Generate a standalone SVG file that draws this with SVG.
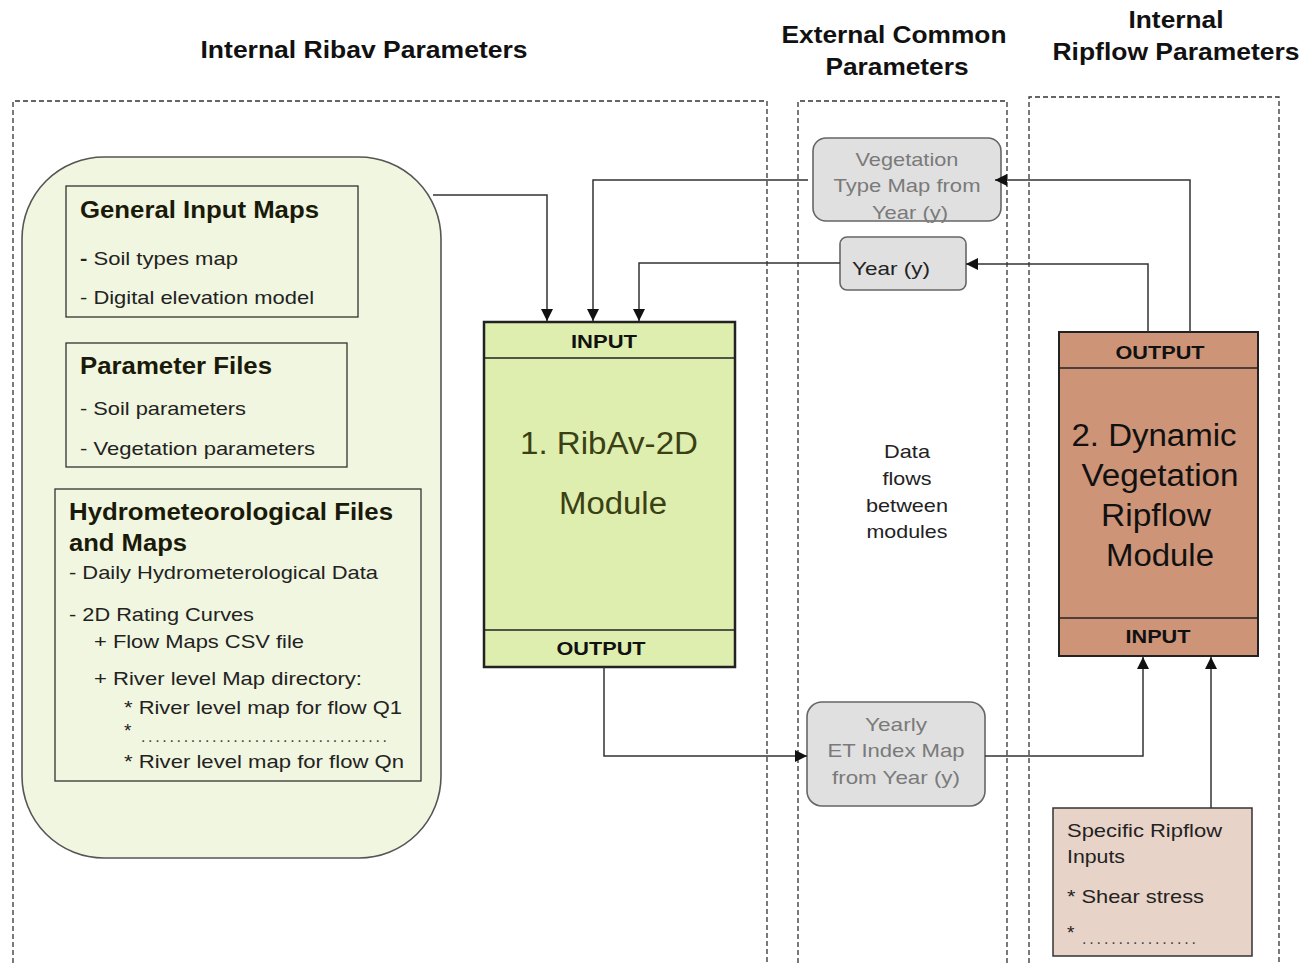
<svg xmlns="http://www.w3.org/2000/svg" width="1303" height="963" viewBox="0 0 1303 963">
<defs>
<marker id="arr" markerUnits="userSpaceOnUse" markerWidth="12" markerHeight="12" viewBox="0 0 12 12" refX="12" refY="6" orient="auto">
<path d="M0,0 L12,6 L0,12 Z" fill="#111"/>
</marker>
<style>
.panel{fill:none;stroke:#333;stroke-width:1.3;stroke-dasharray:5,3}
.title{font-family:"Liberation Sans",Arial,sans-serif;font-weight:bold;font-size:24px;fill:#111}
.hd{font-family:"Liberation Sans",Arial,sans-serif;font-weight:bold;font-size:23px;fill:#1a1a0a}
.bd{font-family:"Liberation Sans",Arial,sans-serif;font-size:19px;fill:#222}
.dots{font-family:"Liberation Sans",Arial,sans-serif;font-size:16px;fill:#444}
.cap{font-family:"Liberation Sans",Arial,sans-serif;font-weight:bold;font-size:19px;fill:#111}
.mod{font-family:"Liberation Sans",Arial,sans-serif;font-size:31px}
.gray{font-family:"Liberation Sans",Arial,sans-serif;font-size:19px;fill:#7a7a7a}
.conn{fill:none;stroke:#333;stroke-width:1.5}
.sub{fill:#f1f6e0;stroke:#333;stroke-width:1.3}
.rbox{fill:#e0e0e0;stroke:#666;stroke-width:1.6}
</style>
</defs>
<rect width="1303" height="963" fill="#fff"/>

<g id="panels">
<path class="panel" d="M13,963 V101 H767 V963"/>
<path class="panel" d="M798,963 V101 H1007 V963"/>
<path class="panel" d="M1029,963 V97 H1279 V963"/>
<text class="title" x="364" y="58" text-anchor="middle" textLength="327" lengthAdjust="spacingAndGlyphs">Internal Ribav Parameters</text>
<text class="title" x="894" y="43" text-anchor="middle" textLength="225" lengthAdjust="spacingAndGlyphs">External Common</text>
<text class="title" x="897" y="75" text-anchor="middle" textLength="143" lengthAdjust="spacingAndGlyphs">Parameters</text>
<text class="title" x="1176" y="28" text-anchor="middle" textLength="95" lengthAdjust="spacingAndGlyphs">Internal</text>
<text class="title" x="1176" y="60" text-anchor="middle" textLength="247" lengthAdjust="spacingAndGlyphs">Ripflow Parameters</text>
</g>

<g id="inputs-group">
<rect x="22" y="157" width="419" height="701" rx="82" ry="82" fill="#f1f6e0" stroke="#555" stroke-width="1.6"/>
</g>

<g id="general-input-maps">
<rect class="sub" x="66" y="186" width="292" height="131"/>
<text class="hd" x="80" y="218" textLength="239" lengthAdjust="spacingAndGlyphs">General Input Maps</text>
<text class="bd" x="80" y="265" textLength="158" lengthAdjust="spacingAndGlyphs"><tspan font-weight="bold">-</tspan> Soil types map</text>
<text class="bd" x="80" y="304" textLength="234" lengthAdjust="spacingAndGlyphs">- Digital elevation model</text>
</g>

<g id="parameter-files">
<rect class="sub" x="66" y="343" width="281" height="124"/>
<text class="hd" x="80" y="374" textLength="192" lengthAdjust="spacingAndGlyphs">Parameter Files</text>
<text class="bd" x="80" y="415" textLength="166" lengthAdjust="spacingAndGlyphs">- Soil parameters</text>
<text class="bd" x="80" y="455" textLength="235" lengthAdjust="spacingAndGlyphs">- Vegetation parameters</text>
</g>

<g id="hydro-files">
<rect class="sub" x="55" y="489" width="366" height="292"/>
<text class="hd" x="69" y="520" textLength="324" lengthAdjust="spacingAndGlyphs">Hydrometeorological Files</text>
<text class="hd" x="69" y="551" textLength="118" lengthAdjust="spacingAndGlyphs">and Maps</text>
<text class="bd" x="69" y="579" textLength="309" lengthAdjust="spacingAndGlyphs">- Daily Hydrometerological Data</text>
<text class="bd" x="69" y="621" textLength="185" lengthAdjust="spacingAndGlyphs">- 2D Rating Curves</text>
<text class="bd" x="94" y="648" textLength="210" lengthAdjust="spacingAndGlyphs">+ Flow Maps CSV file</text>
<text class="bd" x="94" y="685" textLength="268" lengthAdjust="spacingAndGlyphs">+ River level  Map directory:</text>
<text class="bd" x="124" y="714" textLength="278" lengthAdjust="spacingAndGlyphs">* River level map for flow Q1</text>
<text class="bd" x="124" y="737">*</text>
<text class="dots" x="141" y="742" textLength="246" lengthAdjust="spacing">...................................</text>
<text class="bd" x="124" y="768" textLength="280" lengthAdjust="spacingAndGlyphs">* River level map for flow Qn</text>
</g>

<g id="ribav-module">
<rect x="484" y="322" width="251" height="345" fill="#deeeae" stroke="#222" stroke-width="2.5"/>
<line x1="484" y1="358" x2="735" y2="358" stroke="#222" stroke-width="1.5"/>
<line x1="484" y1="630" x2="735" y2="630" stroke="#222" stroke-width="1.5"/>
<text class="cap" x="604" y="348" text-anchor="middle" textLength="66" lengthAdjust="spacingAndGlyphs" fill="#1a1a0a">INPUT</text>
<text class="mod" x="609" y="454" text-anchor="middle" textLength="178" lengthAdjust="spacingAndGlyphs" fill="#3a4014">1. RibAv-2D</text>
<text class="mod" x="613" y="514" text-anchor="middle" textLength="108" lengthAdjust="spacingAndGlyphs" fill="#3a4014">Module</text>
<text class="cap" x="601" y="655" text-anchor="middle" textLength="89" lengthAdjust="spacingAndGlyphs" fill="#2a3010">OUTPUT</text>
</g>

<g id="ripflow-module">
<rect x="1059" y="332" width="199" height="324" fill="#cd9477" stroke="#222" stroke-width="2"/>
<line x1="1059" y1="368" x2="1258" y2="368" stroke="#222" stroke-width="1.5"/>
<line x1="1059" y1="618" x2="1258" y2="618" stroke="#222" stroke-width="1.5"/>
<text class="cap" x="1160" y="359" text-anchor="middle" textLength="89" lengthAdjust="spacingAndGlyphs">OUTPUT</text>
<text class="mod" x="1154" y="446" text-anchor="middle" textLength="165" lengthAdjust="spacingAndGlyphs" fill="#111">2. Dynamic</text>
<text class="mod" x="1160" y="486" text-anchor="middle" textLength="157" lengthAdjust="spacingAndGlyphs" fill="#111">Vegetation</text>
<text class="mod" x="1156" y="526" text-anchor="middle" textLength="110" lengthAdjust="spacingAndGlyphs" fill="#111">Ripflow</text>
<text class="mod" x="1160" y="566" text-anchor="middle" textLength="108" lengthAdjust="spacingAndGlyphs" fill="#111">Module</text>
<text class="cap" x="1158" y="643" text-anchor="middle" textLength="65" lengthAdjust="spacingAndGlyphs">INPUT</text>
</g>

<g id="specific-ripflow-inputs">
<rect x="1053" y="808" width="199" height="148" fill="#e8d3c8" stroke="#333" stroke-width="1.5"/>
<text class="bd" x="1067" y="837" textLength="155" lengthAdjust="spacingAndGlyphs">Specific Ripflow</text>
<text class="bd" x="1067" y="863" textLength="58" lengthAdjust="spacingAndGlyphs">Inputs</text>
<text class="bd" x="1067" y="903" textLength="137" lengthAdjust="spacingAndGlyphs">* Shear stress</text>
<text class="bd" x="1067" y="939">*</text>
<text class="dots" x="1082" y="944" textLength="114" lengthAdjust="spacing">................</text>
</g>

<g id="vegetation-map">
<rect class="rbox" x="813" y="138" width="188" height="83" rx="13" ry="13"/>
<text class="gray" x="907" y="166" text-anchor="middle" textLength="103" lengthAdjust="spacingAndGlyphs">Vegetation</text>
<text class="gray" x="907" y="192" text-anchor="middle" textLength="147" lengthAdjust="spacingAndGlyphs">Type Map from</text>
<text class="gray" x="910" y="219" text-anchor="middle" textLength="76" lengthAdjust="spacingAndGlyphs">Year (y)</text>
</g>

<g id="year">
<rect class="rbox" x="840" y="237" width="126" height="53" rx="7" ry="7"/>
<text class="bd" x="891" y="275" text-anchor="middle" textLength="78" lengthAdjust="spacingAndGlyphs" fill="#333">Year (y)</text>
</g>

<g id="et-index-map">
<rect class="rbox" x="807" y="702" width="178" height="104" rx="15" ry="15"/>
<text class="gray" x="896" y="731" text-anchor="middle" textLength="62" lengthAdjust="spacingAndGlyphs">Yearly</text>
<text class="gray" x="896" y="757" text-anchor="middle" textLength="137" lengthAdjust="spacingAndGlyphs">ET Index Map</text>
<text class="gray" x="896" y="784" text-anchor="middle" textLength="128" lengthAdjust="spacingAndGlyphs">from Year (y)</text>
</g>

<g id="data-flows-label">
<text class="bd" x="907" y="458" text-anchor="middle" textLength="46" lengthAdjust="spacingAndGlyphs" fill="#333">Data</text>
<text class="bd" x="907" y="485" text-anchor="middle" textLength="49" lengthAdjust="spacingAndGlyphs" fill="#333">flows</text>
<text class="bd" x="907" y="512" text-anchor="middle" textLength="82" lengthAdjust="spacingAndGlyphs" fill="#333">between</text>
<text class="bd" x="907" y="538" text-anchor="middle" textLength="81" lengthAdjust="spacingAndGlyphs" fill="#333">modules</text>
</g>

<g id="connectors">
<polyline class="conn" points="433,195 547,195 547,321" marker-end="url(#arr)"/>
<polyline class="conn" points="808,180 593,180 593,321" marker-end="url(#arr)"/>
<polyline class="conn" points="840,263 639,263 639,321" marker-end="url(#arr)"/>
<polyline class="conn" points="1190,332 1190,180 995,180" marker-end="url(#arr)"/>
<polyline class="conn" points="1148,332 1148,264 966,264" marker-end="url(#arr)"/>
<polyline class="conn" points="604,667 604,756 807,756" marker-end="url(#arr)"/>
<polyline class="conn" points="985,756 1143,756 1143,657" marker-end="url(#arr)"/>
<polyline class="conn" points="1211,808 1211,657" marker-end="url(#arr)"/>
</g>
</svg>
